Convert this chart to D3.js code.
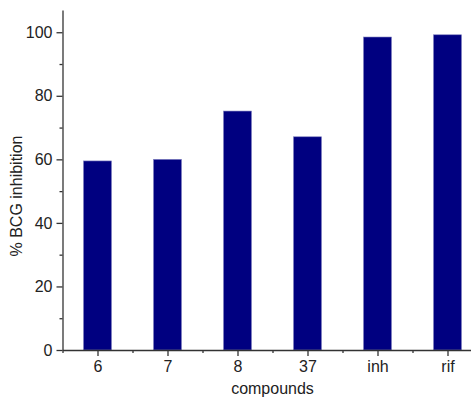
<!DOCTYPE html>
<html lang="en">
  <head>
    <meta charset="UTF-8" />
    <title>% BCG inhibition by compound</title>
    <script src="https://d3js.org/d3.v7.min.js"></script>
    <style>
      body {
        margin: 0;
        background: #fff;
        font-family: "Liberation Sans", Arial, sans-serif;
      }
      svg {
        display: block;
      }
      .axis text {
        font-size: 16px;
        fill: #222;
      }
      .axis path,
      .axis line {
        stroke: #333;
        stroke-width: 1.3;
      }
    </style>
  </head>
  <body>
    <svg width="471" height="398"></svg>
    <script>
      // values
      const compounds = ["6", "7", "8", "37", "inh", "rif"];
      const inhibition = [59.5, 60, 75.2, 67.1, 98.5, 99.2];
      const yTicks = [0, 20, 40, 60, 80, 100];
      const yMinorTicks = [10, 30, 50, 70, 90];

      const svg = d3.select("svg");
      const plotLeft = 62.5,
        plotRight = 482.5,
        plotTop = 10,
        plotBottom = 350;

      const x = d3
        .scaleBand()
        .domain(compounds)
        .range([plotLeft, plotRight])
        .paddingInner(0.6)
        .paddingOuter(0.3);

      const y = d3.scaleLinear().domain([0, 107]).range([plotBottom, plotTop]);

      // bars
      svg
        .selectAll(".bar")
        .data(compounds)
        .enter()
        .append("rect")
        .attr("class", "bar")
        .attr("x", (d) => x(d))
        .attr("width", x.bandwidth())
        .attr("y", (d, i) => y(inhibition[i]))
        .attr("height", (d, i) => y(0) - y(inhibition[i]))
        .attr("fill", "#000080")
        .attr("stroke", "#8080c0")
        .attr("stroke-width", 0.6);

      // y axis
      const yAxis = d3
        .axisLeft(y)
        .tickValues(yTicks)
        .tickSize(6)
        .tickPadding(4)
        .tickSizeOuter(0);
      svg
        .append("g")
        .attr("class", "axis y-axis")
        .attr("transform", `translate(${plotLeft},0)`)
        .call(yAxis);

      svg
        .append("g")
        .attr("class", "axis")
        .attr("transform", `translate(${plotLeft},0)`)
        .call(
          d3.axisLeft(y).tickValues(yMinorTicks).tickSize(3).tickFormat("").tickSizeOuter(0)
        )
        .select(".domain")
        .remove();

      // x axis
      const xCenter = (d) => x(d) + x.bandwidth() / 2;
      const xLin = d3.scaleLinear().domain([plotLeft, plotRight]).range([plotLeft, plotRight]);
      const step = x.step();

      svg
        .append("g")
        .attr("class", "axis x-axis")
        .attr("transform", `translate(0,${plotBottom})`)
        .call(
          d3
            .axisBottom(xLin)
            .tickValues(compounds.map(xCenter))
            .tickFormat((v, i) => compounds[i])
            .tickSize(6)
            .tickPadding(5)
            .tickSizeOuter(0)
        );

      svg
        .append("g")
        .attr("class", "axis")
        .attr("transform", `translate(0,${plotBottom})`)
        .call(
          d3
            .axisBottom(xLin)
            .tickValues(compounds.map((d) => xCenter(d) - step / 2))
            .tickSize(3)
            .tickFormat("")
        )
        .select(".domain")
        .remove();

      // axis titles
      svg
        .append("text")
        .attr("x", (plotLeft + plotRight) / 2)
        .attr("y", 394)
        .attr("text-anchor", "middle")
        .style("font-size", "16px")
        .style("fill", "#222")
        .text("compounds");

      svg
        .append("text")
        .attr("transform", `translate(22,${(plotTop + plotBottom) / 2 + 16}) rotate(-90)`)
        .attr("text-anchor", "middle")
        .style("font-size", "16px")
        .style("fill", "#222")
        .text("% BCG inhibition");
    </script>
  </body>
</html>
